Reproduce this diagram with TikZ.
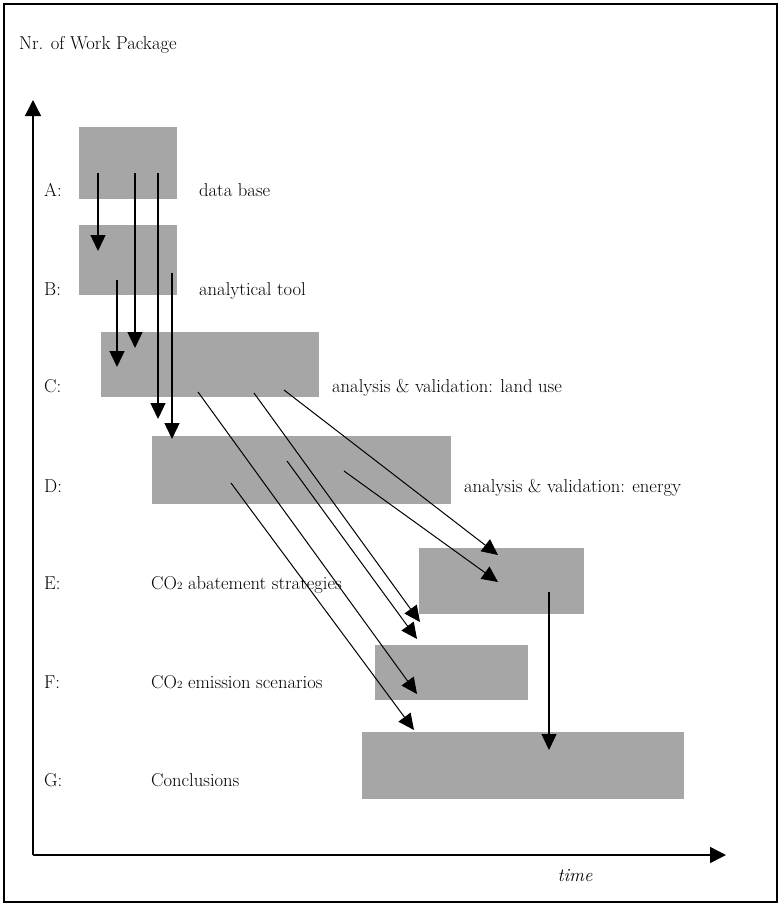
\documentclass[tikz,border=0pt]{standalone}
\usetikzlibrary{arrows.meta}
\definecolor{wpgray}{RGB}{166,166,166}
\begin{document}
\begin{tikzpicture}[x=1pt,y=-1pt,
  wp/.style={fill=wpgray, draw=none, inner sep=0pt, outer sep=0pt, anchor=north west},
  lbl/.style={anchor=base west, inner sep=0pt, font=\fontsize{18.6}{22}\selectfont},
  flow/.style={-{Triangle[length=16pt,width=15pt]}, line width=1.3pt},
  diag/.style={-{Triangle[length=16pt,width=15pt]}, line width=1pt},
  axis/.style={-{Triangle[length=16pt,width=16pt]}, line width=1.4pt}]
\useasboundingbox (0,0) rectangle (781,908);
\draw[line width=2pt] (4,4) rectangle (777,902);

% axes
\coordinate (origin) at (33,855);
\coordinate (ytip) at (33,100);
\coordinate (xtip) at (726,855);
\draw[axis] (origin) -- (ytip);
\draw[axis] (origin) -- (xtip);
\node[lbl] (ytitle) at (19,49) {Nr. of Work Package};
\node[lbl, anchor=base, font=\fontsize{18.6}{22}\selectfont\itshape] (xtitle) at (575,881) {time};

% work package boxes
\node[wp, minimum width=98pt, minimum height=72pt] (A) at (79,127) {};
\node[wp, minimum width=98pt, minimum height=70pt] (B) at (79,225) {};
\node[wp, minimum width=218pt, minimum height=65pt] (C) at (101,332) {};
\node[wp, minimum width=299pt, minimum height=68pt] (D) at (152,436) {};
\node[wp, minimum width=165pt, minimum height=66pt] (E) at (419,548) {};
\node[wp, minimum width=153pt, minimum height=55pt] (F) at (375,645) {};
\node[wp, minimum width=322pt, minimum height=67pt] (G) at (362,732) {};

% row letters
\node[lbl] (lA) at (44,196) {A:};
\node[lbl] (lB) at (44,295) {B:};
\node[lbl] (lC) at (44,392) {C:};
\node[lbl] (lD) at (44,492) {D:};
\node[lbl] (lE) at (44,589) {E:};
\node[lbl] (lF) at (44,688) {F:};
\node[lbl] (lG) at (44,786) {G:};

% descriptions
\node[lbl] (tA) at (199,196) {data base};
\node[lbl] (tB) at (199,295) {analytical tool};
\node[lbl] (tC) at (332,392) {analysis \& validation: land use};
\node[lbl] (tD) at (464,492) {analysis \& validation: energy};
\node[lbl] (tE) at (151,589) {CO{\fontsize{11}{11}\selectfont 2} abatement strategies};
\node[lbl] (tF) at (151,688) {CO{\fontsize{11}{11}\selectfont 2} emission scenarios};
\node[lbl] (tG) at (151,786) {Conclusions};

% vertical arrows
\coordinate (a1s) at (98,173);  \coordinate (a1e) at (98,251);
\coordinate (a2s) at (135,173); \coordinate (a2e) at (135,348);
\coordinate (a3s) at (158,173); \coordinate (a3e) at (158,419);
\coordinate (b1s) at (117,280); \coordinate (b1e) at (117,367);
\coordinate (b2s) at (172,273); \coordinate (b2e) at (172,439);
\coordinate (e1s) at (549,592); \coordinate (e1e) at (549,750);
\draw[flow] (a1s) -- (a1e);
\draw[flow] (a2s) -- (a2e);
\draw[flow] (a3s) -- (a3e);
\draw[flow] (b1s) -- (b1e);
\draw[flow] (b2s) -- (b2e);
\draw[flow] (e1s) -- (e1e);

% diagonal arrows
\coordinate (c1s) at (198,392); \coordinate (c1e) at (417,694);
\coordinate (c2s) at (254,393); \coordinate (c2e) at (420,622);
\coordinate (c3s) at (284,390); \coordinate (c3e) at (498,555);
\coordinate (d1s) at (231,483); \coordinate (d1e) at (414,730);
\coordinate (d2s) at (287,461); \coordinate (d2e) at (417,639);
\coordinate (d3s) at (344,471); \coordinate (d3e) at (498,582);
\draw[diag] (c1s) -- (c1e);
\draw[diag] (c2s) -- (c2e);
\draw[diag] (c3s) -- (c3e);
\draw[diag] (d1s) -- (d1e);
\draw[diag] (d2s) -- (d2e);
\draw[diag] (d3s) -- (d3e);
\end{tikzpicture}
\end{document}
